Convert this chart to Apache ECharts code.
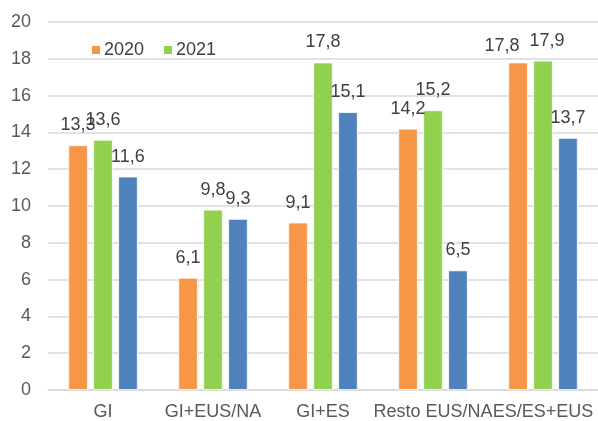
<!DOCTYPE html>
<html>
<head>
<meta charset="utf-8">
<script src="https://cdn.jsdelivr.net/npm/echarts@6/dist/echarts.min.js"></script>
<style>
  html, body { margin: 0; padding: 0; background: #fff; }
  #chart { width: 598px; height: 421px; }
</style>
</head>
<body>
<div id="chart"></div>
<script>
var categories = ['GI', 'GI+EUS/NA', 'GI+ES', 'Resto EUS/NA', 'ES/ES+EUS']
var serie2020 = [13.3, 6.1, 9.1, 14.2, 17.8]
var serie2021 = [13.6, 9.8, 17.8, 15.2, 17.9]
var serie3 = [11.6, 9.3, 15.1, 6.5, 13.7]
var yTicks = { min: 0, max: 20, interval: 2 }

var fontName = '"Liberation Sans", Arial, sans-serif'

// labels nudged sideways in the original to avoid overlapping
var labelNudge = { '2020-4': [-16, 4], '2021-4': [4, 0] }

function makeSeries(name, data, color) {
  return {
    name: name,
    type: 'bar',
    data: data.map(function (v, i) {
      var nudge = labelNudge[name + '-' + i]
      return nudge ? { value: v, label: { offset: nudge } } : v
    }),
    barWidth: 19.5,
    barGap: '28%',
    itemStyle: { color: color, borderColor: '#fff', borderWidth: 0.8 },
    label: {
      show: true,
      position: 'top',
      distance: 11,
      color: '#404040',
      fontSize: 18,
      fontFamily: fontName,
      formatter: function (p) {
        return String(p.value).replace('.', ',')
      }
    }
  }
}

var myChart = echarts.init(document.getElementById('chart'))
myChart.setOption({
  animation: false,
  textStyle: { fontFamily: fontName },
  legend: {
    data: ['2020', '2021'],
    left: 85,
    top: 36,
    itemWidth: 10,
    itemHeight: 10,
    itemGap: 18,
    icon: 'rect',
    textStyle: { fontSize: 18, color: '#404040', fontFamily: fontName, padding: [0, 0, 0, -2] }
  },
  grid: {
    left: 48,
    top: 22,
    bottom: 29,
    width: 552
  },
  xAxis: {
    type: 'category',
    data: categories,
    axisLine: { lineStyle: { color: '#d9d9d9', width: 1.5 } },
    axisTick: { show: false },
    axisLabel: { color: '#595959', fontSize: 18, margin: 13, interval: 0, fontFamily: fontName }
  },
  yAxis: {
    type: 'value',
    min: yTicks.min,
    max: yTicks.max,
    interval: yTicks.interval,
    axisLine: { show: false },
    axisTick: { show: false },
    axisLabel: { color: '#595959', fontSize: 18, margin: 17, fontFamily: fontName },
    splitLine: { lineStyle: { color: '#d9d9d9', width: 1.5 } }
  },
  series: [
    makeSeries('2020', serie2020, '#F79646'),
    makeSeries('2021', serie2021, '#92D050'),
    makeSeries('Serie 3', serie3, '#4F81BD')
  ]
})
</script>
</body>
</html>
